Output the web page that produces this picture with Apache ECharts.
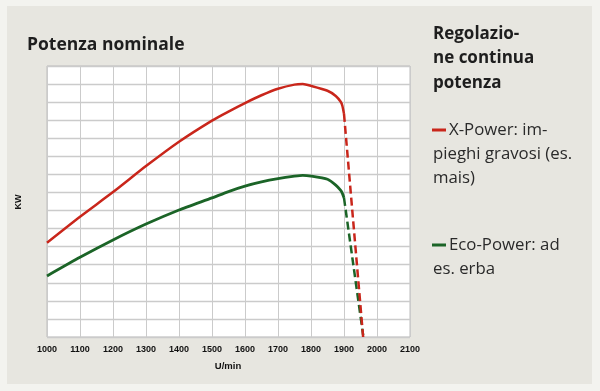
<!DOCTYPE html>
<html>
<head>
<meta charset="utf-8">
<script src="https://cdn.jsdelivr.net/npm/echarts@6/dist/echarts.min.js"></script>
<style>
html,body{margin:0;padding:0;background:#f3f3ef;}
#c{width:600px;height:391px;}
</style>
</head>
<body>
<div id="c"></div>
<script>
// Data (y in grid units; the y axis has no labels)
const rpm       = [1000, 1100, 1200, 1300, 1400, 1500, 1550, 1600, 1650, 1700, 1750, 1775, 1800, 1850, 1875, 1890, 1895, 1900];
const xPower    = [5.22, 6.66, 8.02, 9.46, 10.81, 11.98, 12.48, 12.95, 13.38, 13.74, 13.97, 14.00, 13.90, 13.63, 13.34, 13.02, 12.80, 12.35];
const ecoPower  = [3.38, 4.41, 5.37, 6.25, 7.03, 7.70, 8.05, 8.35, 8.58, 8.76, 8.90, 8.95, 8.91, 8.73, 8.41, 8.12, 7.95, 7.70];
const dropRpm   = [1900, 1958];
const xDrop     = [12.35, 0];
const ecoDrop   = [7.70, 0.1];
const xTicks    = [1000, 2100, 100];
const title     = 'Potenza nominale';
const yName     = 'KW';
const xName     = 'U/min';
const sideTitle = ['Regolazio-', 'ne continua', 'potenza'];
const xLabel    = ['X-Power: im-', 'pieghi gravosi (es.', 'mais)'];
const ecoLabel  = ['Eco-Power: ad', 'es. erba'];

const RED = '#c9261b', GREEN = '#1b6427';
const pairs = (xs, ys) => xs.map((x, i) => [x, ys[i]]);

const chart = echarts.init(document.getElementById('c'), null, {renderer: 'canvas'});

const graphics = [
  {type: 'rect', z: -10, shape: {x: 7, y: 6, width: 585, height: 378}, style: {fill: '#e7e6e0'}},
  {type: 'text', x: 27, y: 45, style: {text: title, font: 'bold 17.5px "Open Sans"', fill: '#1e1e1e', verticalAlign: 'middle'}},
  {type: 'text', x: 18.5, y: 202, rotation: Math.PI / 2, style: {text: yName, font: 'bold 9px "Liberation Sans"', fill: '#111', align: 'center', verticalAlign: 'middle'}},
  {type: 'text', x: 228, y: 366, style: {text: xName, font: 'bold 9.5px "Liberation Sans"', fill: '#111', align: 'center', verticalAlign: 'middle'}},
];
sideTitle.forEach((t, i) => graphics.push({type: 'text', x: 433, y: 34 + i * 24.5, style: {text: t, font: 'bold 17px "Open Sans"', fill: '#1e1e1e', verticalAlign: 'middle'}}));
graphics.push({type: 'line', shape: {x1: 432, y1: 130, x2: 446, y2: 130}, style: {stroke: RED, lineWidth: 3}});
xLabel.forEach((t, i) => graphics.push({type: 'text', x: i === 0 ? 449 : 433, y: 130 + i * 24, style: {text: t, font: '16.8px "Open Sans"', fill: '#2a2a2a', verticalAlign: 'middle'}}));
graphics.push({type: 'line', shape: {x1: 432, y1: 245, x2: 446, y2: 245}, style: {stroke: GREEN, lineWidth: 3}});
ecoLabel.forEach((t, i) => graphics.push({type: 'text', x: i === 0 ? 449 : 433, y: 245 + i * 24, style: {text: t, font: '16.8px "Open Sans"', fill: '#2a2a2a', verticalAlign: 'middle'}}));

chart.setOption({
  animation: false,
  backgroundColor: 'transparent',
  grid: {left: 47, top: 66, width: 363, height: 271, show: true, backgroundColor: '#ffffff', borderColor: '#bdbdbd', borderWidth: 1},
  xAxis: {
    type: 'value', min: xTicks[0], max: xTicks[1], interval: xTicks[2],
    axisLine: {show: false}, axisTick: {show: false},
    axisLabel: {color: '#111', fontFamily: 'Liberation Sans', fontWeight: 'bold', fontSize: 9, margin: 8, formatter: v => String(v)},
    splitLine: {show: true, lineStyle: {color: '#cbcbcb', width: 1}}
  },
  yAxis: {
    type: 'value', min: 0, max: 15, interval: 1,
    axisLine: {show: false}, axisTick: {show: false}, axisLabel: {show: false},
    splitLine: {show: true, lineStyle: {color: '#cbcbcb', width: 1.3}}
  },
  graphic: graphics,
  series: [
    {type: 'line', data: pairs(rpm, ecoPower), smooth: 0.2, showSymbol: false, lineStyle: {color: GREEN, width: 2.8}},
    {type: 'line', data: pairs(dropRpm, ecoDrop), showSymbol: false, lineStyle: {color: GREEN, width: 2.5, type: [8, 4]}},
    {type: 'line', data: pairs(rpm, xPower), smooth: 0.2, showSymbol: false, lineStyle: {color: RED, width: 2.5}},
    {type: 'line', data: pairs(dropRpm, xDrop), showSymbol: false, lineStyle: {color: RED, width: 2.5, type: [8, 4]}}
  ]
});
</script>
</body>
</html>
